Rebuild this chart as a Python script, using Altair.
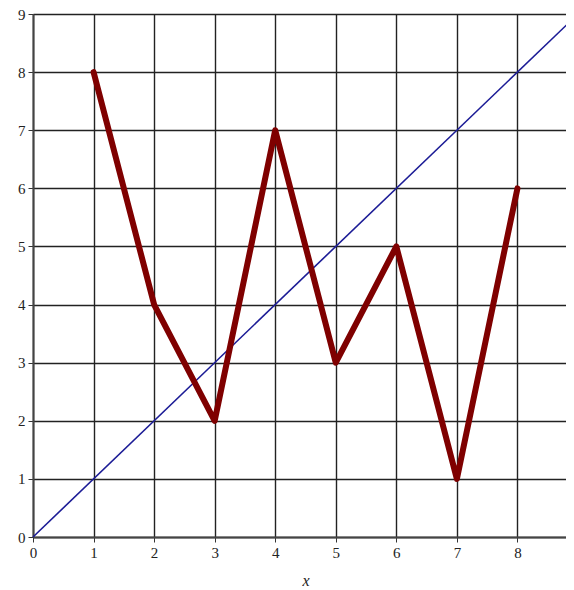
import altair as alt
import pandas as pd

x_pts = [1, 2, 3, 4, 5, 6, 7, 8]
y_pts = [8, 4, 2, 7, 3, 5, 1, 6]
diag_x = [0, 9]
diag_y = [0, 9]
ticks = list(range(0, 10))

red = pd.DataFrame({"x": x_pts, "y": y_pts})
blue = pd.DataFrame({"x": diag_x, "y": diag_y})

xs = alt.Scale(domain=[0, 9], nice=False, range=[0, 545])
ys = alt.Scale(domain=[0, 9], nice=False)

xaxis = alt.Axis(values=ticks, format="d", grid=True, gridColor="#222222", gridWidth=1.4,
                 domainColor="#444444", domainWidth=2, tickColor="#333333", tickSize=5,
                 labelFont="Liberation Serif", labelFontSize=15, labelColor="#222222",
                 labelPadding=3, title="x", titleFont="Liberation Serif", titleFontStyle="italic",
                 titleFontWeight="normal", titleFontSize=16, titleColor="#222222", titlePadding=12,
                 labelFlush=False, labelBound=False,
                 labelOffset={"condition": {"test": "datum.value == 9", "value": -8}, "value": 0})
yaxis = alt.Axis(values=ticks, format="d", grid=True, gridColor="#222222", gridWidth=1.4,
                 domainColor="#444444", domainWidth=2, tickColor="#333333", tickSize=5,
                 labelFont="Liberation Serif", labelFontSize=15, labelColor="#222222",
                 labelPadding=3, title=None, labelFlush=False)

blue_line = alt.Chart(blue).mark_line(color="#1c1c96", strokeWidth=1.6).encode(
    x=alt.X("x:Q", scale=xs, axis=xaxis),
    y=alt.Y("y:Q", scale=ys, axis=yaxis),
)
red_line = alt.Chart(red).mark_line(color="#7f0000", strokeWidth=6, strokeJoin="round",
                                    strokeCap="round").encode(
    x=alt.X("x:Q", scale=xs),
    y=alt.Y("y:Q", scale=ys),
)

chart = alt.layer(blue_line, red_line).properties(
    width=533, height=523,
    autosize=alt.AutoSizeParams(type="none"),
    padding={"left": 25, "top": 6, "right": 0, "bottom": 52},
).configure_view(stroke=None)

chart.save("out.html", embed_options={"renderer": "svg", "actions": False})
